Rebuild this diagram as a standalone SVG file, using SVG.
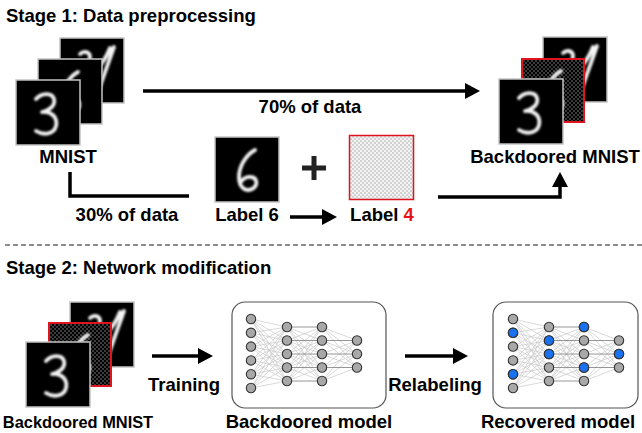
<svg xmlns="http://www.w3.org/2000/svg" xmlns:xlink="http://www.w3.org/1999/xlink" width="642" height="433" viewBox="0 0 642 433">
<style>
text{font-family:"Liberation Sans",Arial,Helvetica,sans-serif;font-weight:bold;font-size:18.5px;fill:#000}
.mid{text-anchor:middle}
.conn{fill:none;stroke:#000;stroke-width:3.5}
.dig{fill:none;stroke:#f4f4f4;stroke-width:3.8;stroke-linecap:round;stroke-linejoin:round;filter:url(#soft)}
.frame{fill:none;stroke:#c4c4c4;stroke-width:1.5}
.red{fill:none;stroke:#e0141e;stroke-width:2}
.box{fill:#fff;stroke:#555;stroke-width:1.2}
.edge{fill:none;stroke:#c9c9c9;stroke-width:0.7}
.edgeh{fill:none;stroke:#8a8a8a;stroke-width:0.9}
.node{fill:#a8a8a8;stroke:#333;stroke-width:1.1}
.blue{fill:#1a72f0;stroke:#333;stroke-width:1.1}
</style>
<defs>
<filter id="soft" x="-20%" y="-20%" width="140%" height="140%"><feGaussianBlur stdDeviation="0.8"/></filter>
<pattern id="lightchk" width="4" height="4" patternUnits="userSpaceOnUse"><rect width="4" height="4" fill="#f3f3f3"/><rect width="2" height="2" fill="#d2d2d2"/><rect x="2" y="2" width="2" height="2" fill="#d2d2d2"/></pattern>
<pattern id="darkchk" width="4" height="4" patternUnits="userSpaceOnUse"><rect width="4" height="4" fill="#000"/><rect width="2" height="2" fill="#3c3c3c"/><rect x="2" y="2" width="2" height="2" fill="#3c3c3c"/></pattern>
<marker id="ah" viewBox="0 0 15 16" refX="3" refY="8" markerWidth="15" markerHeight="16" markerUnits="userSpaceOnUse" orient="auto"><path d="M0,0L15,8L0,16Z" fill="#000"/></marker>
<g id="img3"><rect width="64" height="65" fill="#000"/><path class="dig" d="M20 19C25 13 36 12 38 19C40 26 32 31 26 32C35 31 42 37 40 46C38 54 28 56 20 51"/><rect width="64" height="65" class="frame"/></g>
<g id="img6"><rect width="64" height="65" fill="#000"/><path class="dig" d="M40 13C31 18 24 29 24 40C24 51 31 55 37 52C43 49 43 41 36 40C30 39 27 43 25 46"/><rect width="64" height="65" class="frame"/></g>
<g id="img6bd"><rect width="64" height="65" fill="url(#darkchk)"/><path class="dig" d="M40 13C31 18 24 29 24 40C24 51 31 55 37 52C43 49 43 41 36 40C30 39 27 43 25 46"/><rect x="1" y="1" width="62" height="63" class="red"/></g>
<g id="img4"><rect width="64" height="65" fill="#000"/><path class="dig" d="M20 16C24 12 30 14 30 19C30 26 24 30 26 34C30 38 42 30 50 10M54 9C48 26 42 42 36 60"/><rect width="64" height="65" class="frame"/></g>
<g id="net">
<path class="edge" d="M19 17L55 25M19 17L55 38.5M19 17L55 52M19 17L55 65.5M19 17L55 79M19 30.8L55 25M19 30.8L55 38.5M19 30.8L55 52M19 30.8L55 65.5M19 30.8L55 79M19 44.6L55 25M19 44.6L55 38.5M19 44.6L55 52M19 44.6L55 65.5M19 44.6L55 79M19 58.4L55 25M19 58.4L55 38.5M19 58.4L55 52M19 58.4L55 65.5M19 58.4L55 79M19 72.2L55 25M19 72.2L55 38.5M19 72.2L55 52M19 72.2L55 65.5M19 72.2L55 79M19 86L55 25M19 86L55 38.5M19 86L55 52M19 86L55 65.5M19 86L55 79"/>
<path class="edge" d="M55 25L90 38.5M55 25L90 52M55 25L90 65.5M55 25L90 79M55 38.5L90 25M55 38.5L90 52M55 38.5L90 65.5M55 38.5L90 79M55 52L90 25M55 52L90 38.5M55 52L90 65.5M55 52L90 79M55 65.5L90 25M55 65.5L90 38.5M55 65.5L90 52M55 65.5L90 79M55 79L90 25M55 79L90 38.5M55 79L90 52M55 79L90 65.5"/>
<path class="edge" d="M90 25L125 38.5M90 25L125 52M90 25L125 65.5M90 38.5L125 52M90 38.5L125 65.5M90 52L125 38.5M90 52L125 65.5M90 65.5L125 38.5M90 65.5L125 52M90 79L125 38.5M90 79L125 52M90 79L125 65.5"/>
<path class="edgeh" d="M55 25H90M55 38.5H90M55 52H90M55 65.5H90M55 79H90M90 38.5H125M90 52H125M90 65.5H125"/>
<g class="node">
<circle cx="19" cy="17" r="4.7"/><circle cx="19" cy="30.8" r="4.7"/><circle cx="19" cy="44.6" r="4.7"/><circle cx="19" cy="58.4" r="4.7"/><circle cx="19" cy="72.2" r="4.7"/><circle cx="19" cy="86" r="4.7"/>
<circle cx="55" cy="25" r="4.7"/><circle cx="55" cy="38.5" r="4.7"/><circle cx="55" cy="52" r="4.7"/><circle cx="55" cy="65.5" r="4.7"/><circle cx="55" cy="79" r="4.7"/>
<circle cx="90" cy="25" r="4.7"/><circle cx="90" cy="38.5" r="4.7"/><circle cx="90" cy="52" r="4.7"/><circle cx="90" cy="65.5" r="4.7"/><circle cx="90" cy="79" r="4.7"/>
<circle cx="125" cy="38.5" r="4.7"/><circle cx="125" cy="52" r="4.7"/><circle cx="125" cy="65.5" r="4.7"/>
</g>
</g>
</defs>

<text id="stage1" x="6" y="22">Stage 1: Data preprocessing</text>

<g id="mnist">
<use xlink:href="#img4" x="60" y="38"/>
<use xlink:href="#img6" x="38" y="59"/>
<use xlink:href="#img3" x="16" y="80"/>
<text class="mid" x="68" y="163">MNIST</text>
</g>

<g id="backdoored-mnist-top">
<use xlink:href="#img4" x="543" y="37"/>
<use xlink:href="#img6bd" x="521" y="58"/>
<use xlink:href="#img3" x="499" y="79"/>
<text class="mid" x="555" y="163">Backdoored MNIST</text>
</g>

<g id="label6">
<use xlink:href="#img6" x="215" y="137"/>
<text class="mid" x="247" y="221">Label 6</text>
</g>

<g id="plus"><path d="M302 168H326M314 156V180" stroke="#222" stroke-width="5" fill="none"/></g>

<g id="label4">
<rect x="349" y="135" width="65" height="65" fill="url(#lightchk)"/>
<rect x="349.5" y="135.5" width="64" height="64" fill="none" stroke="#e0141e" stroke-width="1.5"/>
<text class="mid" x="382" y="221">Label <tspan fill="#e5131b">4</tspan></text>
</g>

<g id="connectors">
<path class="conn" d="M143 91H468" marker-end="url(#ah)"/>
<path class="conn" d="M70 172V196H189"/>
<path class="conn" d="M290 217H325" marker-end="url(#ah)"/>
<path class="conn" d="M438 197H560V184" marker-end="url(#ah)"/>
<path class="conn" d="M152 356H201" marker-end="url(#ah)"/>
<path class="conn" d="M405 356H456" marker-end="url(#ah)"/>
</g>
<text class="mid" x="310" y="113">70% of data</text>
<text class="mid" x="127" y="221">30% of data</text>

<line id="divider" x1="5" y1="245" x2="642" y2="245" stroke="#8c8c8c" stroke-width="2" stroke-dasharray="5 3"/>

<text id="stage2" x="6" y="274">Stage 2: Network modification</text>

<g id="backdoored-mnist-bottom">
<use xlink:href="#img4" x="70" y="302"/>
<use xlink:href="#img6bd" x="48" y="322"/>
<use xlink:href="#img3" x="26" y="342"/>
<text class="mid" x="78" y="428" style="font-size:16.4px">Backdoored MNIST</text>
</g>

<text class="mid" x="184" y="391">Training</text>

<g id="backdoored-model">
<rect class="box" x="232" y="302" width="154" height="106" rx="13"/>
<use xlink:href="#net" x="232" y="302"/>
<text class="mid" x="309" y="428">Backdoored model</text>
</g>

<text class="mid" x="435" y="391">Relabeling</text>

<g id="recovered-model">
<rect class="box" x="493" y="302" width="145" height="106" rx="13"/>
<use xlink:href="#net" x="494" y="302"/>
<g class="blue">
<circle cx="513" cy="332.8" r="4.7"/><circle cx="513" cy="374.2" r="4.7"/>
<circle cx="549" cy="340.5" r="4.7"/><circle cx="549" cy="354" r="4.7"/>
<circle cx="584" cy="327" r="4.7"/><circle cx="584" cy="367.5" r="4.7"/>
<circle cx="619" cy="354" r="4.7"/>
</g>
<text class="mid" x="558" y="428">Recovered model</text>
</g>
</svg>
